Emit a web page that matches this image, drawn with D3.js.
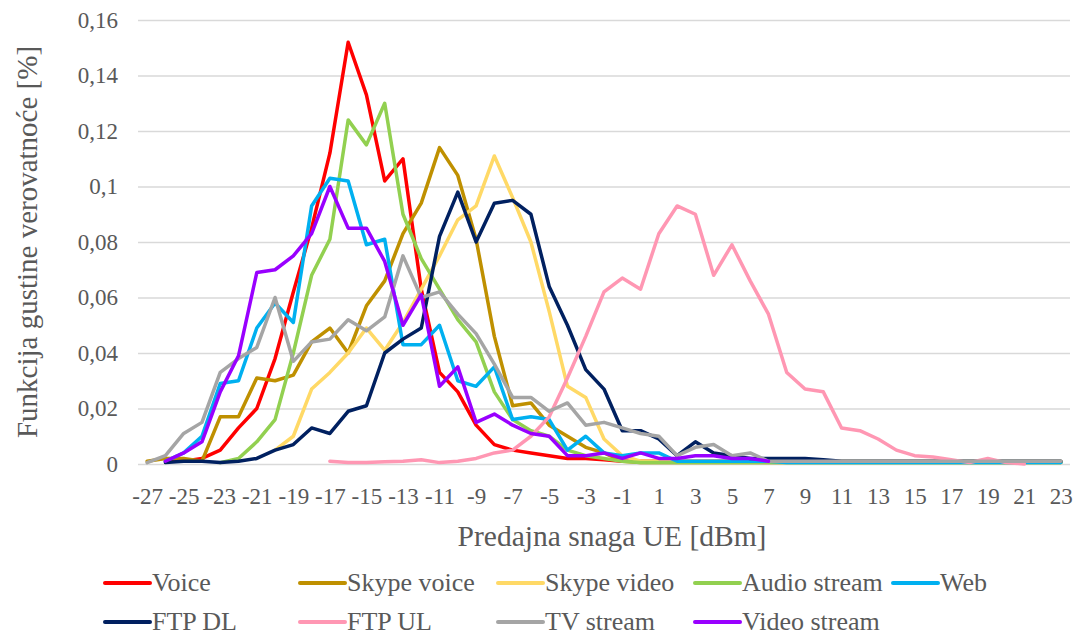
<!DOCTYPE html>
<html>
<head>
<meta charset="utf-8">
<script src="https://cdn.jsdelivr.net/npm/d3@7"></script>
<style>
  body { margin: 0; background: #fff; }
  text { font-family: "Liberation Serif", "Times New Roman", serif; fill: #595959; }
</style>
</head>
<body>
<svg id="canvas" width="1079" height="637"></svg>
<script>
// x categories: UE transmit power in dBm
var powers = d3.range(-27, 24)
var xTickLabels = d3.range(-27, 24, 2)
var yTicks = [0, 0.02, 0.04, 0.06, 0.08, 0.1, 0.12, 0.14, 0.16]

var seriesNames = ["Voice", "Skype voice", "Skype video", "Audio stream", "Web", "FTP DL", "FTP UL", "TV stream", "Video stream"]
var seriesColors = ["#FF0000", "#BF9000", "#FFD966", "#92D050", "#00B0F0", "#002060", "#FF97B3", "#A5A5A5", "#9900FF"]

// values from -27 to 23 (null = no point)
var voice = [null, 0.001, 0.001, 0.002, 0.005, 0.013, 0.020, 0.038, 0.062, 0.085, 0.112, 0.152, 0.133, 0.102, 0.110, 0.063, 0.033, 0.026, 0.014, 0.007, 0.005, 0.004, 0.003, 0.002, 0.002, 0.0015, 0.001, 0.001, 0.001, 0.001, 0.001, 0.001, 0.001, 0.0008, 0.0008, 0.0008, 0.0008, 0.0008, 0.0008, 0.0008, 0.0008, 0.0008, 0.0008, 0.0008, 0.0008, 0.0008, 0.0008, 0.0008, 0.0008, 0.0008, 0.0008]
var skypeVoice = [0.001, 0.002, 0.002, 0.001, 0.017, 0.017, 0.031, 0.030, 0.032, 0.044, 0.049, 0.040, 0.057, 0.066, 0.083, 0.094, 0.114, 0.104, 0.081, 0.046, 0.021, 0.022, 0.014, 0.010, 0.006, 0.004, 0.001, 0.0005, 0.0005, 0.0005, 0.0005, 0.0005, 0.0005, 0.0005, 0.0005, 0.0005, 0.0005, 0.0005, 0.0005, 0.0005, 0.0005, 0.0005, 0.0005, 0.0005, 0.0005, 0.0005, 0.0005, 0.0005, 0.0005, 0.0005, 0.0005]
var skypeVideo = [null, null, null, null, null, null, null, 0.005, 0.010, 0.027, 0.033, 0.040, 0.049, 0.041, 0.051, 0.063, 0.075, 0.088, 0.093, 0.111, 0.096, 0.080, 0.055, 0.028, 0.024, 0.009, 0.003, 0.001, 0.001, 0.001, 0.001, 0.001, 0.001, 0.001, 0.001, 0.001, 0.001, 0.001, 0.001, 0.001, 0.001, 0.001, 0.001, 0.001, 0.001, 0.001, 0.001, 0.001, 0.001, 0.001, 0.001]
var audioStream = [null, null, null, null, 0.0005, 0.002, 0.008, 0.016, 0.040, 0.068, 0.081, 0.124, 0.115, 0.130, 0.090, 0.074, 0.063, 0.052, 0.044, 0.026, 0.016, 0.012, 0.010, 0.005, 0.003, 0.002, 0.001, 0.0005, 0.0005, 0.0005, 0.0005, 0.0005, 0.0005, 0.0005, 0.0005, 0.0005, 0.0005, 0.0005, 0.0005, 0.0005, 0.0005, 0.0005, 0.0005, 0.0005, 0.0005, 0.0005, 0.0005, 0.0005, 0.0005, 0.0005, 0.0005]
var web = [null, 0.001, 0.004, 0.010, 0.029, 0.030, 0.049, 0.058, 0.051, 0.093, 0.103, 0.102, 0.079, 0.081, 0.043, 0.043, 0.050, 0.030, 0.028, 0.035, 0.016, 0.017, 0.016, 0.005, 0.010, 0.004, 0.003, 0.004, 0.004, 0.001, 0.001, 0.001, 0.001, 0.001, 0.001, 0.0005, 0.0005, 0.0005, 0.0005, 0.0005, 0.0005, 0.0005, 0.0005, 0.0005, 0.0005, 0.0005, 0.0005, 0.0005, 0.0005, 0.0005, 0.0005]
var ftpDL = [null, 0.0005, 0.001, 0.001, 0.0005, 0.001, 0.002, 0.005, 0.007, 0.013, 0.011, 0.019, 0.021, 0.040, 0.045, 0.049, 0.082, 0.098, 0.080, 0.094, 0.095, 0.090, 0.064, 0.050, 0.034, 0.027, 0.012, 0.012, 0.009, 0.003, 0.008, 0.004, 0.003, 0.002, 0.002, 0.002, 0.002, 0.0015, 0.001, 0.001, 0.001, 0.001, 0.001, 0.001, 0.001, 0.001, 0.001, 0.001, 0.001, 0.001, 0.001]
var ftpUL = [null, null, null, null, null, null, null, null, null, null, 0.001, 0.0005, 0.0005, 0.0008, 0.001, 0.0015, 0.0005, 0.001, 0.002, 0.004, 0.005, 0.010, 0.017, 0.031, 0.046, 0.062, 0.067, 0.063, 0.083, 0.093, 0.090, 0.068, 0.079, 0.066, 0.054, 0.033, 0.027, 0.026, 0.013, 0.012, 0.009, 0.005, 0.003, 0.0025, 0.0015, 0.0005, 0.002, 0.0005, 0.0, null, null]
var tvStream = [0.0005, 0.003, 0.011, 0.015, 0.033, 0.038, 0.042, 0.060, 0.037, 0.044, 0.045, 0.052, 0.048, 0.053, 0.075, 0.060, 0.062, 0.054, 0.047, 0.036, 0.024, 0.024, 0.019, 0.022, 0.014, 0.015, 0.013, 0.011, 0.010, 0.003, 0.006, 0.007, 0.003, 0.004, 0.001, 0.001, 0.001, 0.001, 0.001, 0.001, 0.001, 0.001, 0.001, 0.001, 0.001, 0.001, 0.001, 0.001, 0.001, 0.001, 0.001]
var videoStream = [null, 0.001, 0.004, 0.008, 0.026, 0.039, 0.069, 0.070, 0.075, 0.083, 0.100, 0.085, 0.085, 0.073, 0.050, 0.061, 0.028, 0.035, 0.015, 0.018, 0.014, 0.011, 0.010, 0.003, 0.003, 0.004, 0.002, 0.004, 0.002, 0.002, 0.003, 0.003, 0.002, 0.002, 0.001, null, null, null, null, null, null, null, null, null, null, null, null, null, null, null, null]

var seriesValues = [voice, skypeVoice, skypeVideo, audioStream, web, ftpDL, ftpUL, tvStream, videoStream]

var plotLeft = 138, plotRight = 1070, plotTop = 20, plotBottom = 464

var x = d3.scaleLinear().domain([-27.5, 23.5]).range([plotLeft, plotRight])
var y = d3.scaleLinear().domain([0, 0.16]).range([plotBottom, plotTop])

var svg = d3.select("#canvas")

var comma = d3.formatLocale({decimal: ",", thousands: ".", grouping: [3], currency: ["", ""]}).format("~g")

// y axis + gridlines
var yAxis = svg.append("g")
  .attr("transform", "translate(" + plotLeft + ",0)")
  .call(d3.axisLeft(y).tickValues(yTicks).tickFormat(comma).tickSize(-(plotRight - plotLeft)).tickPadding(20))
yAxis.select(".domain").remove()
yAxis.selectAll(".tick line").attr("stroke", "#D9D9D9").attr("stroke-width", 1.3)
yAxis.selectAll(".tick text").attr("font-size", 23).attr("fill", "#595959")

// x axis
var xAxis = svg.append("g")
  .attr("transform", "translate(0," + plotBottom + ")")
  .call(d3.axisBottom(x).tickValues(xTickLabels).tickFormat(d => String(d)).tickSize(0).tickPadding(24))
xAxis.select(".domain").remove()
xAxis.selectAll(".tick text").attr("font-size", 23).attr("fill", "#595959")

// lines
var line = d3.line()
  .defined(d => d[1] != null)
  .x(d => x(d[0]))
  .y(d => y(d[1]))

svg.append("g")
  .selectAll("path")
  .data(seriesValues)
  .join("path")
  .attr("d", vals => line(powers.map((p, i) => [p, vals[i]])))
  .attr("fill", "none")
  .attr("stroke", (d, i) => seriesColors[i])
  .attr("stroke-width", 3.5)
  .attr("stroke-linejoin", "round")
  .attr("stroke-linecap", "round")

// axis titles
svg.append("text")
  .attr("x", 612).attr("y", 546)
  .attr("text-anchor", "middle")
  .attr("font-size", 29.5)
  .text("Predajna snaga UE [dBm]")

svg.append("text")
  .attr("transform", "translate(37,242) rotate(-90)")
  .attr("text-anchor", "middle")
  .attr("font-size", 29)
  .text("Funkcija gustine verovatnoće [%]")

// legend, two rows
var legendX = [105, 300, 498, 695, 893]
var legendY = [583, 622]
var legend = svg.append("g")
  .selectAll("g")
  .data(seriesNames)
  .join("g")
  .attr("transform", (d, i) => "translate(" + legendX[i % 5] + "," + legendY[Math.floor(i / 5)] + ")")
legend.append("line")
  .attr("x1", 0).attr("x2", 45)
  .attr("stroke", (d, i) => seriesColors[i])
  .attr("stroke-width", 4)
  .attr("stroke-linecap", "round")
legend.append("text")
  .attr("x", 47).attr("y", 8)
  .attr("font-size", 26)
  .text(d => d)
</script>
</body>
</html>
